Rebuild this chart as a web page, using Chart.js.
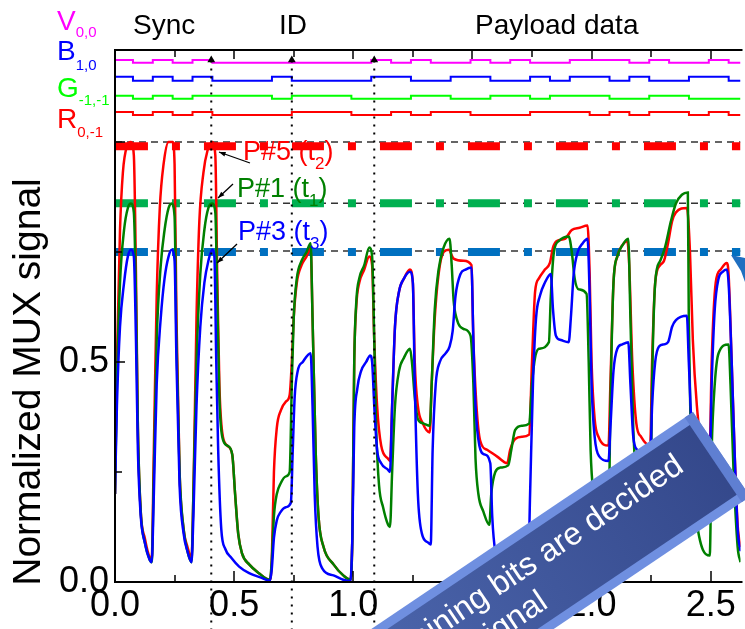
<!DOCTYPE html>
<html>
<head>
<meta charset="utf-8">
<script src="https://cdn.jsdelivr.net/npm/chart.js@4.4.0/dist/chart.umd.min.js"></script>
<style>
  html, body { margin: 0; padding: 0; background: #fff; }
</style>
</head>
<body>
<canvas id="mux" width="745" height="629"></canvas>
<script>
// ---- traces: [time, normalized signal] ----
const p5Red = [
  [0,.2],[.008,.5],[.021,.8],[.033,.93],[.05,.99],[.067,1.0],[.079,.97],[.088,.7],[.096,.35],[.108,.16],
  [.125,.1],[.146,.055],[.154,.052],[.163,.3],[.175,.65],[.188,.85],[.204,.95],[.225,1.0],[.242,1.0],[.25,.95],
  [.258,.6],[.271,.25],[.288,.12],[.304,.08],[.321,.055],[.329,.2],[.342,.6],[.354,.82],[.371,.93],[.388,.98],
  [.408,1.0],[.421,.97],[.429,.7],[.438,.45],[.45,.34],[.471,.31],[.492,.29],[.504,.2],[.517,.11],[.533,.065],
  [.563,.04],[.604,.02],[.65,.005],[.658,.05],[.667,.25],[.679,.35],[.696,.39],[.717,.41],[.733,.425],[.742,.5],
  [.75,.6],[.763,.68],[.783,.72],[.804,.74],[.821,.76],[.829,.6],[.842,.3],[.854,.15],[.875,.08],[.917,.04],
  [.958,.015],[.988,.005],[.996,.1],[1.004,.5],[1.013,.63],[1.025,.68],[1.046,.71],[1.067,.74],[1.079,.72],[1.088,.55],
  [1.1,.4],[1.117,.31],[1.146,.28],[1.154,.275],[1.163,.4],[1.175,.58],[1.192,.66],[1.213,.69],[1.238,.71],[1.25,.68],
  [1.258,.5],[1.271,.4],[1.292,.36],[1.321,.34],[1.329,.45],[1.342,.6],[1.358,.7],[1.379,.75],[1.4,.755],[1.421,.735],
  [1.463,.73],[1.496,.72],[1.504,.55],[1.517,.4],[1.533,.32],[1.563,.3],[1.604,.285],[1.646,.27],[1.658,.3],[1.679,.325],
  [1.708,.33],[1.738,.335],[1.75,.5],[1.763,.66],[1.779,.69],[1.804,.71],[1.825,.725],[1.838,.76],[1.854,.775],[1.888,.78],
  [1.917,.8],[1.95,.805],[1.983,.81],[1.992,.7],[2.0,.5],[2.013,.37],[2.029,.33],[2.071,.31],[2.079,.45],[2.092,.68],
  [2.108,.74],[2.129,.765],[2.15,.775],[2.158,.72],[2.171,.5],[2.188,.36],[2.208,.33],[2.246,.31],[2.254,.5],[2.267,.68],
  [2.288,.72],[2.304,.73],[2.321,.77],[2.338,.82],[2.354,.84],[2.4,.85],[2.413,.75],[2.425,.55],[2.442,.4],[2.458,.33],
  [2.496,.31],[2.504,.5],[2.521,.68],[2.542,.71],[2.567,.725],[2.575,.7],[2.588,.5],[2.6,.3],[2.613,.13],[2.625,.08]
];
const p1Green = [
  [0,.2],[.008,.45],[.021,.68],[.038,.8],[.054,.85],[.067,.86],[.079,.84],[.088,.65],[.096,.35],[.108,.16],
  [.125,.09],[.146,.05],[.154,.045],[.163,.25],[.175,.55],[.192,.72],[.208,.8],[.225,.85],[.238,.86],[.25,.83],
  [.258,.55],[.271,.25],[.288,.12],[.304,.07],[.321,.045],[.329,.2],[.342,.5],[.358,.7],[.375,.8],[.392,.85],
  [.408,.86],[.421,.84],[.429,.65],[.438,.42],[.45,.33],[.471,.31],[.492,.29],[.504,.2],[.517,.11],[.533,.065],
  [.563,.04],[.604,.02],[.65,.005],[.658,.05],[.667,.15],[.679,.2],[.696,.225],[.717,.24],[.733,.25],[.742,.45],
  [.75,.6],[.763,.69],[.783,.73],[.804,.75],[.821,.77],[.829,.6],[.842,.3],[.854,.15],[.875,.08],[.917,.04],
  [.958,.015],[.988,.005],[.996,.1],[1.004,.5],[1.013,.64],[1.025,.69],[1.046,.72],[1.067,.76],[1.079,.74],[1.088,.55],
  [1.096,.35],[1.108,.22],[1.125,.17],[1.146,.13],[1.154,.125],[1.163,.25],[1.175,.4],[1.192,.48],[1.213,.51],[1.238,.53],
  [1.246,.5],[1.258,.42],[1.271,.37],[1.296,.36],[1.321,.355],[1.329,.45],[1.342,.62],[1.358,.71],[1.379,.76],[1.404,.78],
  [1.413,.72],[1.421,.64],[1.433,.6],[1.463,.575],[1.492,.56],[1.504,.45],[1.513,.28],[1.525,.2],[1.546,.16],[1.571,.13],
  [1.579,.2],[1.596,.25],[1.617,.26],[1.65,.265],[1.663,.3],[1.679,.345],[1.708,.355],[1.738,.36],[1.75,.45],[1.763,.51],
  [1.779,.53],[1.821,.545],[1.829,.65],[1.842,.75],[1.863,.775],[1.904,.785],[1.917,.75],[1.929,.69],[1.946,.665],[1.979,.655],
  [1.988,.5],[1.996,.3],[2.008,.2],[2.042,.13],[2.071,.12],[2.079,.4],[2.092,.68],[2.108,.74],[2.129,.765],[2.154,.78],
  [2.163,.6],[2.175,.35],[2.208,.15],[2.246,.12],[2.254,.45],[2.267,.68],[2.288,.73],[2.308,.76],[2.333,.82],[2.354,.86],
  [2.379,.88],[2.404,.885],[2.408,.6],[2.417,.3],[2.438,.15],[2.496,.06],[2.504,.3],[2.517,.45],[2.533,.52],[2.575,.54],
  [2.583,.45],[2.596,.25],[2.613,.08],[2.625,.045]
];
const p3Blue = [
  [0,.2],[.008,.4],[.021,.58],[.038,.68],[.054,.74],[.067,.755],[.079,.74],[.088,.55],[.096,.3],[.108,.15],
  [.125,.09],[.146,.05],[.154,.045],[.163,.2],[.175,.45],[.192,.6],[.208,.69],[.225,.74],[.238,.755],[.25,.73],
  [.258,.5],[.271,.22],[.288,.11],[.304,.07],[.321,.045],[.329,.15],[.342,.4],[.358,.58],[.375,.68],[.392,.73],
  [.408,.755],[.417,.74],[.425,.5],[.433,.3],[.446,.12],[.463,.075],[.488,.055],[.521,.035],[.563,.02],[.613,.01],
  [.65,.003],[.658,.03],[.667,.1],[.679,.14],[.696,.16],[.717,.17],[.738,.18],[.746,.3],[.754,.42],[.767,.48],
  [.788,.5],[.821,.52],[.829,.4],[.838,.2],[.85,.08],[.871,.03],[.917,.015],[.958,.005],[.988,.002],[.996,.1],
  [1.004,.35],[1.017,.44],[1.033,.48],[1.054,.5],[1.071,.515],[1.079,.5],[1.088,.4],[1.1,.3],[1.117,.27],[1.146,.255],
  [1.154,.25],[1.163,.4],[1.175,.58],[1.192,.66],[1.213,.69],[1.238,.705],[1.25,.68],[1.258,.45],[1.271,.2],[1.288,.11],
  [1.313,.09],[1.325,.085],[1.333,.3],[1.346,.45],[1.363,.5],[1.388,.52],[1.404,.535],[1.417,.57],[1.429,.65],[1.45,.7],
  [1.471,.71],[1.496,.715],[1.504,.55],[1.513,.4],[1.529,.31],[1.55,.29],[1.575,.27],[1.583,.15],[1.596,.07],[1.625,.04],
  [1.688,.02],[1.733,.015],[1.742,.2],[1.754,.45],[1.767,.6],[1.783,.65],[1.804,.68],[1.829,.7],[1.838,.62],[1.85,.56],
  [1.871,.55],[1.904,.545],[1.913,.6],[1.925,.7],[1.942,.75],[1.963,.77],[1.983,.78],[1.992,.65],[2.0,.45],[2.013,.33],
  [2.033,.285],[2.071,.275],[2.079,.35],[2.092,.48],[2.108,.53],[2.129,.54],[2.154,.545],[2.163,.45],[2.175,.33],[2.192,.3],
  [2.221,.29],[2.246,.28],[2.254,.4],[2.267,.5],[2.283,.535],[2.304,.54],[2.321,.545],[2.338,.58],[2.354,.595],[2.4,.605],
  [2.408,.5],[2.421,.35],[2.458,.3],[2.496,.28],[2.504,.45],[2.517,.62],[2.533,.69],[2.55,.705],[2.567,.71],[2.575,.68],
  [2.588,.5],[2.6,.3],[2.613,.12],[2.625,.07]
];

// ---- drive bits (one per bit slot) and their low/high levels ----
const bitLen = 1 / 12;
const bitLag = 0.008;
const vBits = [1,0,1,0,1,0,0,0,0,0,0,0,0,1,0,1,0,0,1,0,1,0,0,1,1,1,0,1,0,0,1,0];
const bBits = [1,0,1,0,1,0,0,0,1,0,0,0,0,1,1,0,0,1,1,0,0,1,0,1,1,0,1,0,0,1,1,0];
const gBits = [1,0,1,0,1,1,1,1,0,1,1,1,0,0,0,1,1,0,0,1,1,0,1,1,1,0,0,1,1,0,0,0];
const rBits = [1,0,1,0,1,0,0,0,0,1,1,1,0,0,1,0,1,1,0,0,0,1,1,1,0,1,0,1,1,0,1,0];
const vLevels = [1.180, 1.186];
const bLevels = [1.139, 1.148];
const gLevels = [1.098, 1.105];
const rLevels = [1.061, 1.068];

// ---- reference levels and markers ----
const refLevels = [1.0, 0.861, 0.752];
const p5Level = 0.99, p1Level = 0.861, p3Level = 0.75;
const markerTimes = [0.404, 0.742, 1.088];

const xTickLabels = ['0.0', '0.5', '1.0', '1.5', '2.0', '2.5'];
const yTickLabels = ['0.0', '0.5'];
const xMax = 2.625, yMax = 1.209;

const FONT = '"Liberation Sans", Arial, sans-serif';
Chart.defaults.font.family = FONT;

function bitTrace(bits, lv) {
  const pts = bits.map((b, k) => ({ x: k === 0 ? 0 : k * bitLen - bitLag, y: lv[b] }));
  pts.push({ x: xMax, y: lv[bits[bits.length - 1]] });
  return pts;
}
function hline(v) { return [{ x: 0, y: v }, { x: xMax, y: v }]; }
function isHalf(v) { return Math.abs(v * 2 - Math.round(v * 2)) < 1e-6; }

const datasets = [];
refLevels.forEach(v => datasets.push({
  data: hline(v), borderColor: '#333', borderWidth: 1.5, borderDash: [7, 5], order: 10
}));
[[p5Level, '#ff0000'], [p1Level, '#00b050'], [p3Level, '#0070c0']].forEach(([v, c]) => datasets.push({
  data: [{ x: 0.004, y: v }, { x: xMax, y: v }], borderColor: c, borderWidth: 8,
  borderDash: [32, 24, 8, 24], borderCapStyle: 'butt', order: 8
}));
[[vBits, vLevels, '#ff00ff'], [bBits, bLevels, '#0000ff'], [gBits, gLevels, '#00ff00'], [rBits, rLevels, '#ff0000']]
  .forEach(([bits, lv, c]) => datasets.push({
    data: bitTrace(bits, lv), borderColor: c, borderWidth: 2, stepped: 'before', order: 6
  }));
datasets.push({ label: 'P#5 (t2)', data: p5Red, borderColor: '#ff0000', borderWidth: 2.5, cubicInterpolationMode: 'monotone', order: 3 });
datasets.push({ label: 'P#1 (t1)', data: p1Green, borderColor: '#008000', borderWidth: 2.5, cubicInterpolationMode: 'monotone', order: 2 });
datasets.push({ label: 'P#3 (t3)', data: p3Blue, borderColor: '#0000ff', borderWidth: 2.5, cubicInterpolationMode: 'monotone', order: 1 });
markerTimes.forEach(t => datasets.push({
  data: [{ x: t, y: -0.11 }, { x: t, y: 1.186 }], borderColor: '#000', borderWidth: 2, borderDash: [2, 6],
  pointRadius: [0, 4.5], pointStyle: 'triangle', pointBackgroundColor: '#000', pointBorderWidth: 0,
  clip: false, order: 0
}));

function parts(ctx, list, x, y, color) {
  ctx.fillStyle = color;
  ctx.textAlign = 'left';
  ctx.textBaseline = 'alphabetic';
  list.forEach(([txt, size, dy]) => {
    ctx.font = size + 'px ' + FONT;
    ctx.fillText(txt, x, y + dy);
    x += ctx.measureText(txt).width;
  });
}
function arrow(ctx, x1, y1, x2, y2) {
  const a = Math.atan2(y2 - y1, x2 - x1), h = 7;
  ctx.beginPath();
  ctx.moveTo(x1, y1); ctx.lineTo(x2, y2); ctx.stroke();
  ctx.beginPath();
  ctx.moveTo(x2, y2);
  ctx.lineTo(x2 - h * Math.cos(a - 0.35), y2 - h * Math.sin(a - 0.35));
  ctx.lineTo(x2 - h * Math.cos(a + 0.35), y2 - h * Math.sin(a + 0.35));
  ctx.closePath(); ctx.fill();
}

const decor = {
  id: 'decor',
  afterDraw(chart) {
    const { ctx, chartArea: a } = chart;
    const xs = chart.scales.x, ys = chart.scales.y;
    ctx.save();
    // frame (right side is cut off in the original)
    ctx.strokeStyle = '#000';
    ctx.lineWidth = 2;
    ctx.beginPath();
    ctx.moveTo(a.right + 2, a.top); ctx.lineTo(a.left, a.top);
    ctx.lineTo(a.left, a.bottom); ctx.lineTo(a.right + 2, a.bottom);
    ctx.stroke();
    // inward ticks
    ctx.lineWidth = 1.5;
    ctx.beginPath();
    for (let v = 0.25; v <= 2.5 + 1e-6; v += 0.25) {
      const px = Math.round(xs.getPixelForValue(v));
      const major = isHalf(v);
      ctx.moveTo(px, a.bottom); ctx.lineTo(px, a.bottom - (major ? 11 : 7));
      ctx.moveTo(px, a.top); ctx.lineTo(px, a.top + (major ? 9 : 7));
    }
    for (let v = 0.25; v <= 1.0 + 1e-6; v += 0.25) {
      const py = Math.round(ys.getPixelForValue(v));
      ctx.moveTo(a.left, py); ctx.lineTo(a.left + (isHalf(v) ? 10 : 7), py);
    }
    ctx.stroke();

    // channel labels
    parts(ctx, [['V', 28, 0], ['0,0', 15, 7]], 57, 30, '#ff00ff');
    parts(ctx, [['B', 28, 0], ['1,0', 15, 10]], 57, 60, '#0000ff');
    parts(ctx, [['G', 28, 0], ['-1,-1', 15, 8]], 57, 97, '#00ff00');
    parts(ctx, [['R', 28, 0], ['0,-1', 15, 9]], 57, 128, '#ff0000');

    // section headers
    parts(ctx, [['Sync', 28, 0]], 133, 34, '#000');
    parts(ctx, [['ID', 28, 0]], 279, 34, '#000');
    parts(ctx, [['Payload data', 28, 0]], 475, 34, '#000');

    // pixel labels
    parts(ctx, [['P#5 (t', 27, 0], ['2', 17, 9], [')', 27, 0]], 243, 160, '#ff0000');
    parts(ctx, [['P#1 (t', 27, 0], ['1', 17, 9], [')', 27, 0]], 237, 197, '#008000');
    parts(ctx, [['P#3 (t', 27, 0], ['3', 17, 9], [')', 27, 0]], 238, 240, '#0000ff');
    ctx.strokeStyle = '#000'; ctx.fillStyle = '#000'; ctx.lineWidth = 1.3;
    arrow(ctx, 250, 163, 219, 152);
    arrow(ctx, 233, 184, 218, 198);
    arrow(ctx, 237, 244, 217, 263);

    // y title
    ctx.save();
    ctx.translate(40, 382);
    ctx.rotate(-Math.PI / 2);
    ctx.font = '39px ' + FONT;
    ctx.fillStyle = '#000';
    ctx.textAlign = 'center';
    ctx.fillText('Normalized MUX signal', 0, 0);
    ctx.restore();

    // cropped callout tip at right edge
    ctx.fillStyle = '#1f6fc0';
    ctx.beginPath();
    ctx.moveTo(731, 255); ctx.lineTo(745, 258); ctx.lineTo(745, 282); ctx.lineTo(741, 271);
    ctx.closePath(); ctx.fill();

    // overlaid banner
    ctx.save();
    ctx.translate(693, 412);
    ctx.rotate(-34 * Math.PI / 180);
    const L = 560, W = 102;
    ctx.fillStyle = '#6f8fe0';
    ctx.fillRect(-L, 0, L, W);
    ctx.fillStyle = '#5f7fd2';
    ctx.fillRect(-10, 0, 10, W);
    const g = ctx.createLinearGradient(-L, 0, 0, 0);
    g.addColorStop(0, '#5470b8');
    g.addColorStop(1, '#34488b');
    ctx.fillStyle = g;
    ctx.fillRect(-L, 9, L - 10, W - 18);
    ctx.fillStyle = '#fff';
    ctx.font = '32px ' + FONT;
    ctx.textAlign = 'right';
    ctx.fillText('Remaining bits are decided', -39, 44);
    ctx.fillText('by the signal', -228, 81);
    ctx.restore();

    ctx.restore();
  }
};

new Chart(document.getElementById('mux'), {
  type: 'line',
  data: { datasets },
  options: {
    responsive: false,
    animation: false,
    layout: { padding: { top: 50, right: 0, left: 0, bottom: 0 } },
    elements: { point: { radius: 0 }, line: { tension: 0, fill: false } },
    plugins: { legend: { display: false }, tooltip: { enabled: false } },
    scales: {
      x: {
        type: 'linear', min: 0, max: xMax,
        afterFit: s => { s.height = 47; },
        grid: { display: false, drawTicks: false },
        border: { display: false },
        ticks: {
          stepSize: 0.25, autoSkip: false, maxRotation: 0, padding: 2, includeBounds: false,
          color: '#000', font: { size: 36 },
          callback: v => isHalf(v) && v <= 2.5 + 1e-6 ? xTickLabels[Math.round(v * 2)] : ''
        }
      },
      y: {
        type: 'linear', min: 0, max: yMax,
        afterFit: s => { s.width = 115; },
        grid: { display: false, drawTicks: false },
        border: { display: false },
        ticks: {
          stepSize: 0.25, autoSkip: false, padding: 6, includeBounds: false,
          color: '#000', font: { size: 36 },
          callback: v => (Math.abs(v) < 1e-6 ? yTickLabels[0] : Math.abs(v - 0.5) < 1e-6 ? yTickLabels[1] : '')
        }
      }
    }
  },
  plugins: [decor]
});
</script>
</body>
</html>
